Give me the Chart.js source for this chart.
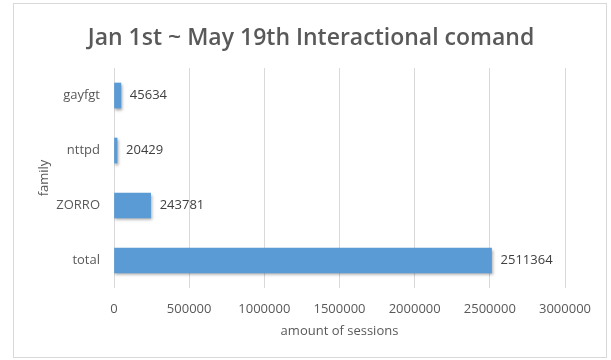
<!DOCTYPE html>
<html>
<head>
<meta charset="utf-8">
<script src="https://cdn.jsdelivr.net/npm/chart.js@4/dist/chart.umd.min.js"></script>
<style>
  body { margin: 0; background: #fff; }
  #wrap { width: 611px; height: 360px; }
</style>
</head>
<body>
<div id="wrap"><canvas id="myChart" width="611" height="360"></canvas></div>
<script>
const chartTitle = 'Jan 1st ~ May 19th Interactional comand';
const families = ['gayfgt', 'nttpd', 'ZORRO', 'total'];
const sessions = [45634, 20429, 243781, 2511364];
const xTicks = [0, 500000, 1000000, 1500000, 2000000, 2500000, 3000000];

const ctx = document.getElementById('myChart');

// frame, white background and the title
const frame = {
    id: 'frame',
    beforeDraw(chart) {
        const c = chart.ctx;
        c.save();
        c.fillStyle = '#fff';
        c.fillRect(0, 0, chart.width, chart.height);
        c.strokeStyle = '#d9d9d9';
        c.lineWidth = 1;
        c.strokeRect(13.5, 3.5, 593, 354);
        c.font = '600 23px "Open Sans"';
        c.fillStyle = '#595959';
        c.textAlign = 'center';
        c.textBaseline = 'middle';
        c.fillText(chartTitle, 311, 38);
        c.restore();
    }
};

// soft shadow under the bars
const barShadow = {
    id: 'barShadow',
    beforeDatasetsDraw(chart) {
        const c = chart.ctx;
        c.save();
        c.shadowColor = 'rgba(0,0,0,0.35)';
        c.shadowBlur = 3;
        c.shadowOffsetX = 1;
        c.shadowOffsetY = 2;
    },
    afterDatasetsDraw(chart) {
        chart.ctx.restore();
    }
};

// value labels right of each bar
const valueLabels = {
    id: 'valueLabels',
    afterDatasetsDraw(chart) {
        const c = chart.ctx;
        const meta = chart.getDatasetMeta(0);
        c.save();
        c.font = '13px "Open Sans"';
        c.fillStyle = '#404040';
        c.textAlign = 'left';
        c.textBaseline = 'middle';
        meta.data.forEach((bar, i) => {
            c.fillText(String(sessions[i]), bar.x + 9, bar.y);
        });
        c.restore();
    }
};

function barFill(context) {
    const chart = context.chart;
    const el = context.element;
    if (!el || !chart.chartArea || !Number.isFinite(el.y)) return '#5b9bd5';
    const g = chart.ctx.createLinearGradient(0, el.y - 12, 0, el.y + 12);
    g.addColorStop(0, '#6aa8e2');
    g.addColorStop(1, '#4684c6');
    return g;
}

const config = {
    type: 'bar',
    data: {
        labels: families,
        datasets: [{
            label: 'amount of sessions',
            data: sessions,
            backgroundColor: barFill,
            borderWidth: 0,
            barThickness: 25
        }]
    },
    options: {
        indexAxis: 'y',
        responsive: false,
        animation: false,
        layout: { padding: { left: 20, right: 46, top: 68, bottom: 0 } },
        plugins: {
            legend: { display: false },
            tooltip: { enabled: false },
            title: { display: false }
        },
        scales: {
            x: {
                min: 0,
                max: 3000000,
                afterBuildTicks(scale) {
                    scale.ticks = xTicks.map(v => ({ value: v }));
                },
                afterFit(scale) { scale.height = 72; },
                grid: { color: '#d9d9d9', drawTicks: false },
                border: { display: false },
                ticks: {
                    color: '#595959',
                    font: { family: '"Open Sans"', size: 13 },
                    padding: 13,
                    maxRotation: 0,
                    autoSkip: false,
                    callback: (v) => String(v)
                },
                title: {
                    display: true,
                    text: 'amount of sessions',
                    color: '#595959',
                    font: { family: '"Open Sans"', size: 13 },
                    padding: { top: 4, bottom: 21 }
                }
            },
            y: {
                afterFit(scale) { scale.width = 94; },
                grid: { display: false, drawTicks: false },
                border: { display: false },
                ticks: {
                    color: '#595959',
                    font: { family: '"Open Sans"', size: 13 },
                    padding: 14
                },
                title: {
                    display: true,
                    text: 'family',
                    color: '#595959',
                    font: { family: '"Open Sans"', size: 13 },
                    padding: { top: 16, bottom: 0 }
                }
            }
        }
    },
    plugins: [frame, barShadow, valueLabels]
};

new Chart(ctx, config);
</script>
</body>
</html>
